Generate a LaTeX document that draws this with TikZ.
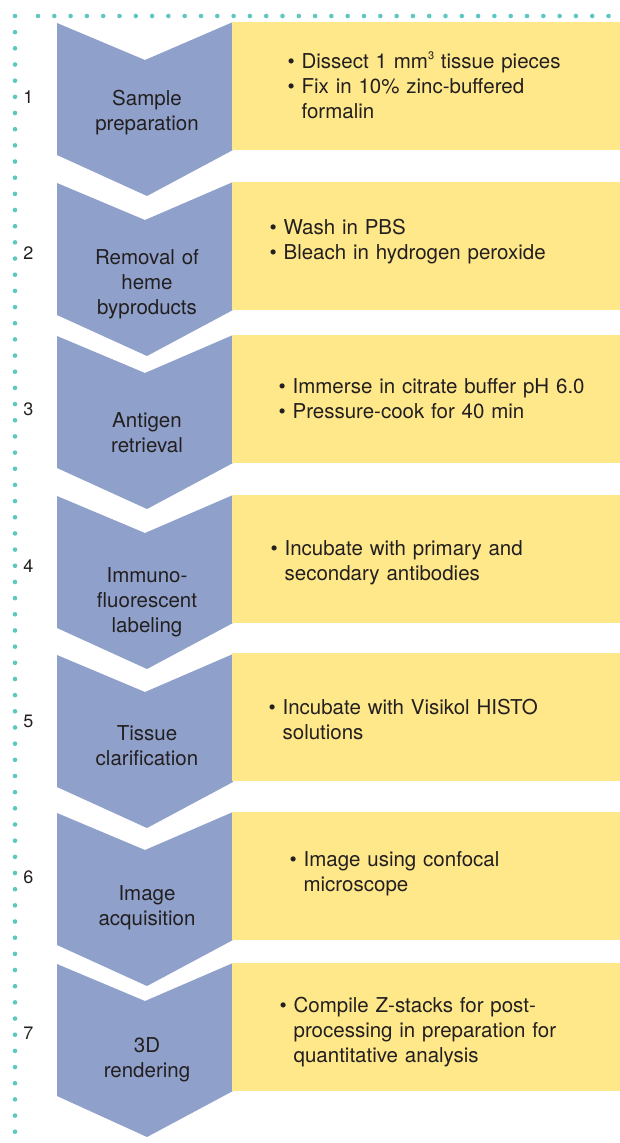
\documentclass[tikz,border=0pt]{standalone}
\usepackage{fontspec}
\setmainfont{TeX Gyre Heros}
\begin{document}
\definecolor{chevblue}{HTML}{8FA1CB}
\definecolor{noteyellow}{HTML}{FEE88A}
\definecolor{dotteal}{HTML}{5CC8C0}
\definecolor{inkgray}{HTML}{231F20}
\newcommand{\bitem}{\makebox[14pt][l]{\textbullet}}
\newcommand{\bcont}{\hspace*{14pt}}
\newcommand{\cubed}{\raisebox{0.42em}{\fontsize{11pt}{11pt}\selectfont 3}}
\begin{tikzpicture}[x=1pt,y=-1pt,
  chev/.style={fill=chevblue},
  notebox/.style={fill=noteyellow},
  steplabel/.style={text=inkgray,inner sep=0pt,anchor=base,text width=170pt,align=center,
    font=\fontsize{20.5pt}{25pt}\selectfont},
  notetext/.style={text=inkgray,inner sep=0pt,anchor=base west,text width=330pt,align=left,
    font=\fontsize{20.5pt}{25pt}\selectfont},
  stepnum/.style={text=inkgray,inner sep=0pt,font=\fontsize{18pt}{20pt}\selectfont}]
\useasboundingbox (0,0) rectangle (620,1143);

% dotted frame: left column and top row
\foreach \i in {0,...,69} \fill[dotteal] (15,16+\i*16.17) circle (2.3pt);
\foreach \i in {0,...,35} \fill[dotteal] (38+\i*16.3,16) circle (2.3pt);

% chevron shape and note box, top edge given
\newcommand{\chevshape}[1]{%
  \fill[chev] (57,#1) -- (145,#1+37) -- (233,#1-1) -- (233,#1+127)
    -- (147,#1+173) -- (57,#1+132) -- cycle;}
\newcommand{\notebg}[1]{\fill[notebox] (232,#1) rectangle (620,#1+128);}

\chevshape{23}  \notebg{22}
\chevshape{183} \notebg{182}
\chevshape{336} \notebg{335}
\chevshape{496} \notebg{495}
\chevshape{655} \notebg{653}
\chevshape{813} \notebg{812}
\chevshape{964} \notebg{963}

% step numbers
\node[stepnum] (n1) at (28.5,97) {1};
\node[stepnum] (n2) at (28.5,253) {2};
\node[stepnum] (n3) at (28.5,409) {3};
\node[stepnum] (n4) at (28.5,566) {4};
\node[stepnum] (n5) at (28.5,721) {5};
\node[stepnum] (n6) at (28.5,877) {6};
\node[stepnum] (n7) at (28.5,1033) {7};

% step names
\node[steplabel] (s1) at (147,105.4) {Sample\\preparation};
\node[steplabel] (s2) at (147,264.4) {Removal of\\heme\\byproducts};
\node[steplabel] (s3) at (147,427.4) {Antigen\\retrieval};
\node[steplabel] (s4) at (147,582.4) {Immuno-\\fluorescent\\labeling};
\node[steplabel] (s5) at (147,740.4) {Tissue\\clarification};
\node[steplabel] (s6) at (147,900.4) {Image\\acquisition};
\node[steplabel] (s7) at (147,1052.4) {3D\\rendering};

% protocol notes
\node[notetext] (t1) at (287.4,68.4) {\bitem Dissect 1 mm\cubed\ tissue pieces\\
  \bitem Fix in 10\% zinc-buffered\\ \bcont formalin};
\node[notetext] (t2) at (269.4,234.4) {\bitem Wash in PBS\\
  \bitem Bleach in hydrogen peroxide};
\node[notetext] (t3) at (278.4,393.4) {\bitem Immerse in citrate buffer pH 6.0\\
  \bitem Pressure-cook for 40 min};
\node[notetext] (t4) at (270.4,555.4) {\bitem Incubate with primary and\\
  \bcont secondary antibodies};
\node[notetext] (t5) at (268.4,714.4) {\bitem Incubate with Visikol HISTO\\
  \bcont solutions};
\node[notetext] (t6) at (289.4,866.4) {\bitem Image using confocal\\
  \bcont microscope};
\node[notetext] (t7) at (279.4,1012.4) {\bitem Compile Z-stacks for post-\\
  \bcont processing in preparation for\\ \bcont quantitative analysis};
\end{tikzpicture}
\end{document}
